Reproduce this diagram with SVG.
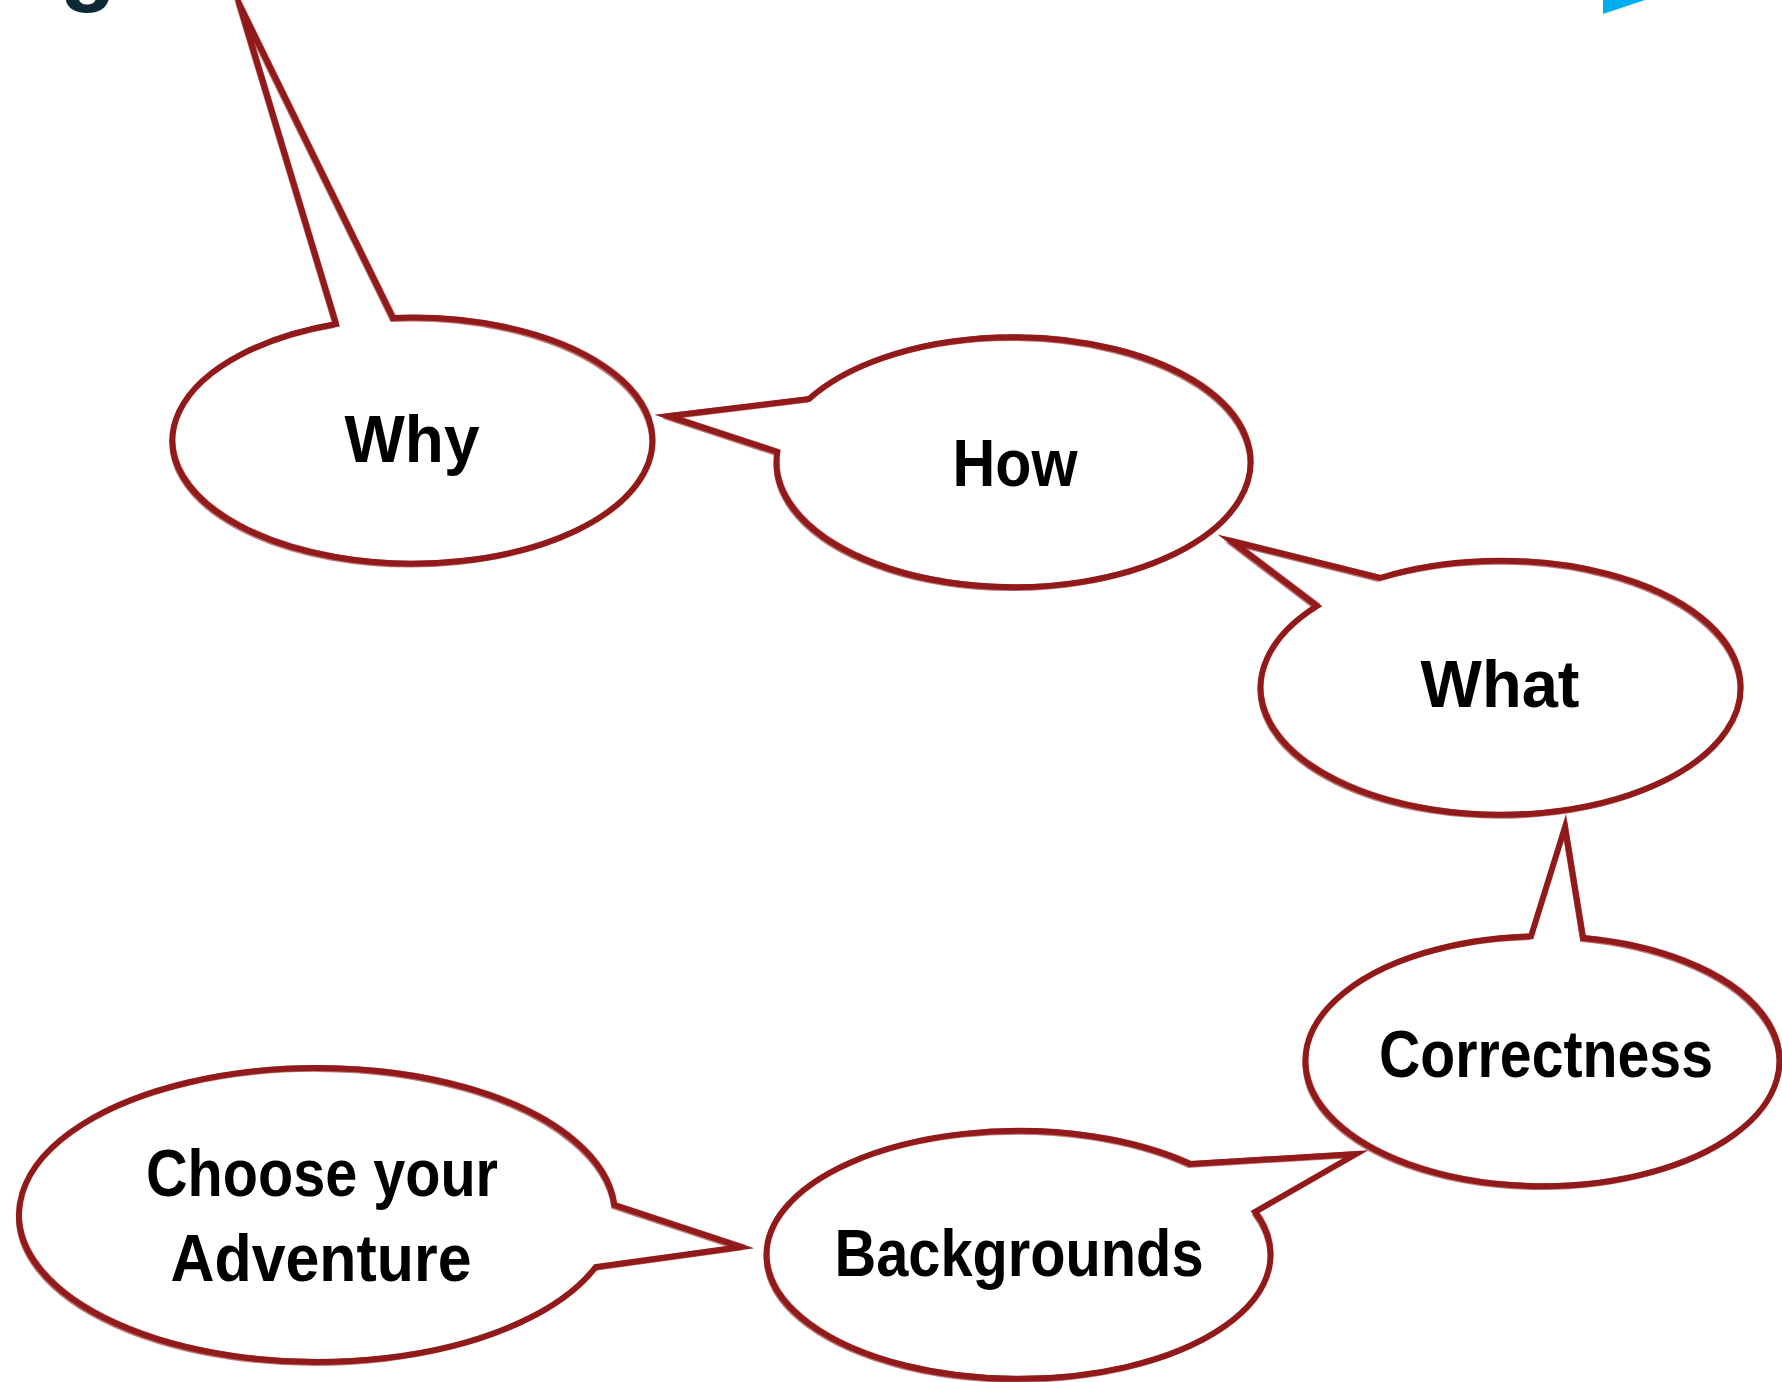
<svg xmlns="http://www.w3.org/2000/svg" width="1782" height="1382" viewBox="0 0 1782 1382">
<style>
.b{fill:none;stroke:#921a1a;stroke-width:6;stroke-linejoin:miter;stroke-miterlimit:20}
.s{fill:none;stroke:#921a1a;stroke-width:1.8;opacity:.6;stroke-linejoin:miter;stroke-miterlimit:20}
.t{font-family:"Liberation Sans",Arial,sans-serif;font-weight:bold;font-size:66px;fill:#000;text-anchor:middle}
</style>
<defs>
<path id="pWhy" d="M393,318 A240,123 0 1 1 336,324 L240,6 Z"/>
<path id="pHow" d="M809,399 A237,125 0 1 1 777.3,452 L668,416 Z"/>
<path id="pWhat" d="M1380,578 A240,127 0 1 1 1317,606 L1231,541 Z"/>
<path id="pCor" d="M1583,938 A237,125 0 1 1 1531,936.3 L1565,827 Z"/>
<path id="pBg" d="M1190,1164 A252,124 0 1 0 1255,1212 L1356,1154 Z"/>
<path id="pCh" d="M595.7,1267 A298,147 0 1 1 614.3,1205 L741,1247 Z"/>
</defs>
<rect width="1782" height="1382" fill="#fff"/>
<g id="fragments">
<text x="88" y="-6" style="font-family:'Liberation Sans',Arial,sans-serif;font-weight:bold;font-size:92px;fill:#0b2a36;text-anchor:middle">g</text>
<polygon points="1603,0 1645,0 1603,14" fill="#00aeef"/>
</g>
<g id="connectors"></g>
<g id="why">
<use href="#pWhy" class="b"/>
<use href="#pWhy" class="s" transform="translate(2,-2)"/>
<use href="#pWhy" class="s" transform="translate(-2,3)"/>
<text class="t" x="412" y="462" textLength="135" lengthAdjust="spacingAndGlyphs">Why</text>
</g>
<g id="how">
<use href="#pHow" class="b"/>
<use href="#pHow" class="s" transform="translate(2,-2)"/>
<use href="#pHow" class="s" transform="translate(-2,3)"/>
<text class="t" x="1015" y="486" textLength="125" lengthAdjust="spacingAndGlyphs">How</text>
</g>
<g id="what">
<use href="#pWhat" class="b"/>
<use href="#pWhat" class="s" transform="translate(2,-2)"/>
<use href="#pWhat" class="s" transform="translate(-2,3)"/>
<text class="t" x="1500" y="707" textLength="159" lengthAdjust="spacingAndGlyphs">What</text>
</g>
<g id="correctness">
<use href="#pCor" class="b"/>
<use href="#pCor" class="s" transform="translate(2,-2)"/>
<use href="#pCor" class="s" transform="translate(-2,3)"/>
<text class="t" x="1546" y="1077" textLength="334" lengthAdjust="spacingAndGlyphs">Correctness</text>
</g>
<g id="backgrounds">
<use href="#pBg" class="b"/>
<use href="#pBg" class="s" transform="translate(2,-2)"/>
<use href="#pBg" class="s" transform="translate(-2,3)"/>
<text class="t" x="1019" y="1276" textLength="369" lengthAdjust="spacingAndGlyphs">Backgrounds</text>
</g>
<g id="choose">
<use href="#pCh" class="b"/>
<use href="#pCh" class="s" transform="translate(2,-2)"/>
<use href="#pCh" class="s" transform="translate(-2,3)"/>
<text class="t" x="322" y="1196" textLength="352" lengthAdjust="spacingAndGlyphs">Choose your</text>
<text class="t" x="321" y="1281" textLength="301" lengthAdjust="spacingAndGlyphs">Adventure</text>
</g>
</svg>
